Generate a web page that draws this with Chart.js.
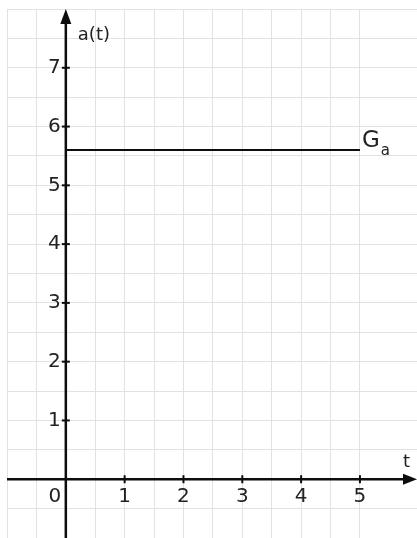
<!DOCTYPE html>
<html>
<head>
<meta charset="utf-8">
<script src="https://cdn.jsdelivr.net/npm/chart.js@4"></script>
<style>
  html, body { margin: 0; padding: 0; background: #fff; }
  #wrap { width: 417px; height: 538px; }
</style>
</head>
<body>
<div id="wrap"><canvas id="chart"></canvas></div>
<script>
// Data
const tValues = [0, 5];
const aValues = [5.6, 5.6];
const xTickLabels = [0, 1, 2, 3, 4, 5];
const yTickLabels = [1, 2, 3, 4, 5, 6, 7];
const seriesLabel = 'G';
const seriesSub = 'a';
const xAxisTitle = 't';
const yAxisTitle = 'a(t)';

const FONT = '"DejaVu Sans", Verdana, sans-serif';
const INK = '#0d0d0d';

// keep only half-unit grid lines (drop the odd max tick)
function halfSteps(scale) {
  scale.ticks = scale.ticks.filter(t => Math.abs(t.value * 2 - Math.round(t.value * 2)) < 1e-6);
}

const axesPlugin = {
  id: 'mathAxes',
  afterDatasetsDraw(chart) {
    const ctx = chart.ctx;
    const xs = chart.scales.x, ys = chart.scales.y;
    const x0 = xs.getPixelForValue(0), y0 = ys.getPixelForValue(0);
    const W = chart.width;

    ctx.save();
    ctx.strokeStyle = INK;
    ctx.fillStyle = INK;
    ctx.lineWidth = 2.5;

    // x axis
    ctx.beginPath();
    ctx.moveTo(xs.left, y0);
    ctx.lineTo(W - 10, y0);
    ctx.stroke();
    ctx.beginPath();
    ctx.moveTo(W, y0);
    ctx.lineTo(W - 14, y0 - 5.5);
    ctx.lineTo(W - 14, y0 + 5.5);
    ctx.closePath();
    ctx.fill();

    // y axis
    ctx.beginPath();
    ctx.moveTo(x0, ys.bottom);
    ctx.lineTo(x0, 20);
    ctx.stroke();
    ctx.beginPath();
    ctx.moveTo(x0, 9);
    ctx.lineTo(x0 - 5.5, 24);
    ctx.lineTo(x0 + 5.5, 24);
    ctx.closePath();
    ctx.fill();

    // tick marks
    ctx.lineWidth = 2;
    xTickLabels.forEach(v => {
      if (v === 0) return;
      const px = xs.getPixelForValue(v);
      ctx.beginPath();
      ctx.moveTo(px, y0 - 4);
      ctx.lineTo(px, y0 + 4);
      ctx.stroke();
    });
    yTickLabels.forEach(v => {
      const py = ys.getPixelForValue(v);
      ctx.beginPath();
      ctx.moveTo(x0 - 4, py);
      ctx.lineTo(x0 + 4, py);
      ctx.stroke();
    });

    // tick labels
    ctx.fillStyle = '#222';
    ctx.font = '20px ' + FONT;
    ctx.textBaseline = 'middle';
    ctx.textAlign = 'center';
    xTickLabels.forEach(v => {
      const px = v === 0 ? x0 - 11 : xs.getPixelForValue(v);
      ctx.fillText(String(v), px, y0 + 18);
    });
    ctx.textAlign = 'right';
    yTickLabels.forEach(v => {
      ctx.fillText(String(v), x0 - 5, ys.getPixelForValue(v));
    });

    // axis titles
    ctx.textAlign = 'left';
    ctx.textBaseline = 'alphabetic';
    ctx.font = '18px ' + FONT;
    ctx.fillText(yAxisTitle, x0 + 12, 40);
    ctx.fillText(xAxisTitle, W - 14, y0 - 12);

    // series label G_a
    const lx = xs.getPixelForValue(tValues[tValues.length - 1]) + 2;
    const ly = ys.getPixelForValue(aValues[aValues.length - 1]);
    ctx.font = '23px ' + FONT;
    ctx.fillText(seriesLabel, lx, ly - 3);
    const gw = ctx.measureText(seriesLabel).width;
    ctx.font = '15px ' + FONT;
    ctx.fillText(seriesSub, lx + gw + 1, ly + 5);

    ctx.restore();
  }
};

new Chart(document.getElementById('chart'), {
  type: 'scatter',
  data: {
    datasets: [{
      label: seriesLabel + seriesSub,
      data: tValues.map((t, i) => ({ x: t, y: aValues[i] })),
      showLine: true,
      borderColor: INK,
      borderWidth: 2,
      pointRadius: 0,
      fill: false
    }]
  },
  plugins: [axesPlugin],
  options: {
    responsive: true,
    maintainAspectRatio: false,
    animation: false,
    layout: { padding: { left: 7, top: 9, right: 0, bottom: 0 } },
    plugins: { legend: { display: false }, tooltip: { enabled: false } },
    scales: {
      x: {
        type: 'linear',
        min: -1,
        max: 5.97,
        ticks: { display: false, stepSize: 0.5 },
        grid: { color: '#e2e2e2', lineWidth: 1, drawTicks: false },
        border: { display: false },
        afterBuildTicks: halfSteps,
        afterFit: s => { s.height = 0; }
      },
      y: {
        type: 'linear',
        min: -1,
        max: 8,
        ticks: { display: false, stepSize: 0.5 },
        grid: { color: '#e2e2e2', lineWidth: 1, drawTicks: false },
        border: { display: false },
        afterBuildTicks: halfSteps,
        afterFit: s => { s.width = 0; }
      }
    }
  }
});
</script>
</body>
</html>
